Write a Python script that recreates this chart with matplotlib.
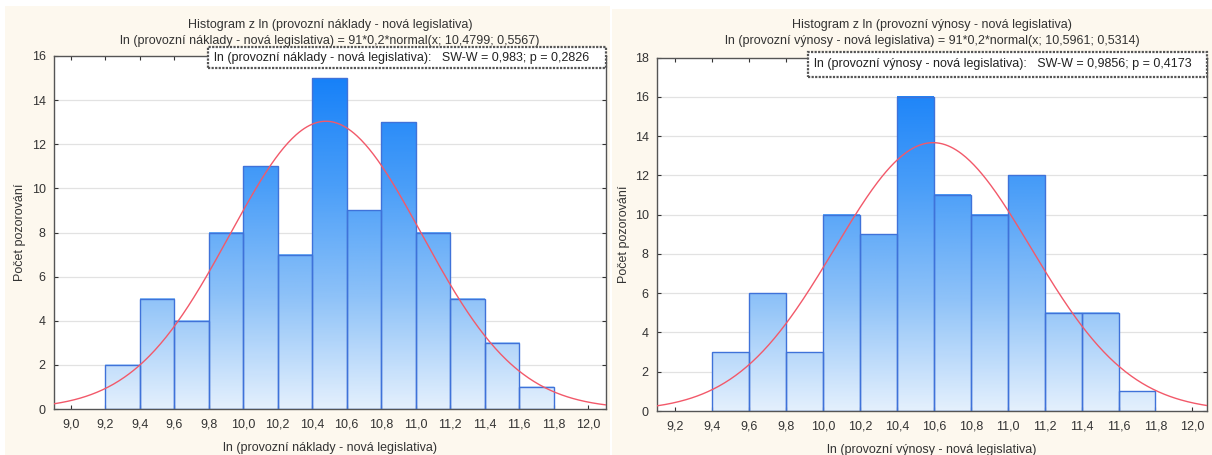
import numpy as np
import matplotlib
matplotlib.use("Agg")
import matplotlib.pyplot as plt
from matplotlib.colors import LinearSegmentedColormap

plt.rcParams['font.family'] = ['Liberation Sans', 'DejaVu Sans']

# ---- data ----
bin_edges_left = [9.2, 9.4, 9.6, 9.8, 10.0, 10.2, 10.4, 10.6, 10.8, 11.0, 11.2, 11.4, 11.6, 11.8]
counts_left = [2, 5, 4, 8, 11, 7, 15, 9, 13, 8, 5, 3, 1]
bin_edges_right = [9.4, 9.6, 9.8, 10.0, 10.2, 10.4, 10.6, 10.8, 11.0, 11.2, 11.4, 11.6, 11.8]
counts_right = [3, 6, 3, 10, 9, 16, 11, 10, 12, 5, 5, 1]

n_obs = 91
bin_w = 0.2
mean_left, sd_left = 10.4799, 0.5567
mean_right, sd_right = 10.5961, 0.5314

xticks_left = [9.0, 9.2, 9.4, 9.6, 9.8, 10.0, 10.2, 10.4, 10.6, 10.8, 11.0, 11.2, 11.4, 11.6, 11.8, 12.0]
xticks_right = [9.2, 9.4, 9.6, 9.8, 10.0, 10.2, 10.4, 10.6, 10.8, 11.0, 11.2, 11.4, 11.6, 11.8, 12.0]

titles_left = ["Histogram z ln (provozní náklady - nová legislativa)",
               "ln (provozní náklady - nová legislativa) = 91*0,2*normal(x; 10,4799; 0,5567)"]
titles_right = ["Histogram z ln (provozní výnosy - nová legislativa)",
                "ln (provozní výnosy - nová legislativa) = 91*0,2*normal(x; 10,5961; 0,5314)"]
legend_left = "ln (provozní náklady - nová legislativa):   SW-W = 0,983; p = 0,2826"
legend_right = "ln (provozní výnosy - nová legislativa):   SW-W = 0,9856; p = 0,4173"
xlabel_left = "ln (provozní náklady - nová legislativa)"
xlabel_right = "ln (provozní výnosy - nová legislativa)"
ylabel = "Počet pozorování"

W, H = 1212, 455
fig = plt.figure(figsize=(W / 100, H / 100), dpi=100)
fig.patch.set_facecolor('white')
CREAM = '#FDF8EE'
for (bx0, by0, bx1) in [(5, 6, 610), (612, 9, 1212)]:
    fig.patches.append(plt.Rectangle((bx0 / W, 0), (bx1 - bx0) / W, 1 - by0 / H,
                                     transform=fig.transFigure, facecolor=CREAM,
                                     edgecolor='none', zorder=-10))

cmap = LinearSegmentedColormap.from_list('bb', ['#E4F0FD', '#8EC2F8', '#4A9EF8', '#1580F8'])


def fmt(v):
    return f"{v:.1f}".replace('.', ',')


def panel(rect, edges, counts, mean, sd, ymax, xlim, xticks, titles, legend, xlabel, legbox, ylx):
    x0, y0, x1, y1 = rect
    ax = fig.add_axes([x0 / W, 1 - y1 / H, (x1 - x0) / W, (y1 - y0) / H])
    ax.set_facecolor('white')
    ax.set_xlim(*xlim)
    ax.set_ylim(0, ymax)
    yt = np.arange(0, ymax + 1, 2)
    ax.set_yticks(yt)
    for y in yt[1:-1]:
        ax.axhline(y, color='#E2E2E2', lw=0.9, zorder=0)
    # gradient bars
    for i, c in enumerate(counts):
        xa, xb = edges[i], edges[i + 1]
        grad = np.linspace(0, c / ymax, 200).reshape(-1, 1)
        ax.imshow(grad, cmap=cmap, vmin=0, vmax=0.95, aspect='auto', origin='lower',
                  extent=[xa, xb, 0, c], zorder=1, interpolation='bilinear')
    ax.bar(edges[:-1], counts, width=np.diff(edges), align='edge', fill=False,
           edgecolor='#3F72D9', lw=1.0, zorder=2)
    ax.set_xlim(*xlim)
    ax.set_ylim(0, ymax)
    xs = np.linspace(xlim[0], xlim[1], 400)
    ys = n_obs * bin_w * np.exp(-0.5 * ((xs - mean) / sd) ** 2) / (sd * np.sqrt(2 * np.pi))
    ax.plot(xs, ys, color='#F2596A', lw=1.0, zorder=3)
    ax.set_xticks(xticks)
    ax.set_xticklabels([fmt(v) for v in xticks])
    ax.tick_params(axis='both', direction='in', labelsize=9, colors='#333333',
                   top=True, right=True, length=3, width=0.8, pad=7)
    ax.tick_params(axis='y', pad=6)
    for s in ax.spines.values():
        s.set_color('#555555')
        s.set_linewidth(1.0)
    ax.set_xlabel(xlabel, fontsize=9, color='#333333', labelpad=8)
    ax.set_ylabel(ylabel, fontsize=9, color='#333333')
    ax.yaxis.set_label_coords((ylx - x0) / (x1 - x0), 0.5)
    cx = (x0 + x1) / 2 / W
    fig.text(cx, 1 - 25 / H, titles[0], ha='center', va='center', fontsize=9, color='#333333')
    fig.text(cx, 1 - 41 / H, titles[1], ha='center', va='center', fontsize=9, color='#333333')
    lx0, ly0, lx1, ly1 = legbox
    fig.patches.append(plt.Rectangle((lx0 / W, 1 - ly1 / H), (lx1 - lx0) / W, (ly1 - ly0) / H,
                                     transform=fig.transFigure, facecolor='white',
                                     edgecolor='#555555', lw=1.6, ls=(0, (1, 0.6)), zorder=5))
    fig.text((lx0 + 6) / W, 1 - (ly0 + ly1) / 2 / H, legend, ha='left', va='center',
             fontsize=9, color='#222222', zorder=6)
    return ax


panel((54, 56, 606, 409), bin_edges_left, counts_left, mean_left, sd_left, 16,
      (8.903, 12.104), xticks_left, titles_left, legend_left, xlabel_left, (208, 47, 606, 68), 26)
panel((657, 57.5, 1207, 411), bin_edges_right, counts_right, mean_right, sd_right, 18,
      (9.102, 12.079), xticks_right, titles_right, legend_right, xlabel_right, (808, 52, 1207, 77), 630)

fig.savefig('out.png', dpi=100, facecolor=fig.get_facecolor())
